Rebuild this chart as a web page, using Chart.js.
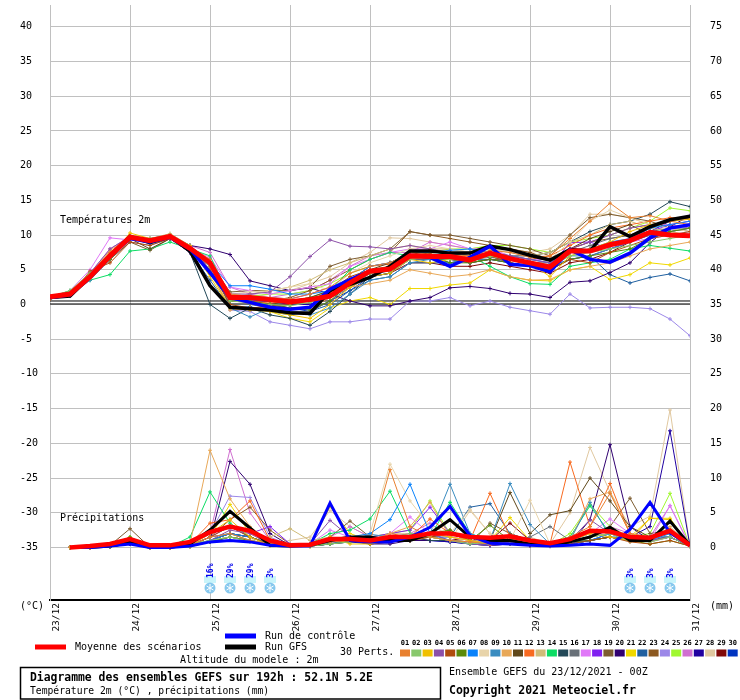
<!DOCTYPE html>
<html>
<head>
<meta charset="utf-8">
<script src="https://cdn.jsdelivr.net/npm/chart.js@4.4.0/dist/chart.umd.min.js"></script>
<style>
  body { margin: 0; background: #fff; }
</style>
</head>
<body>
<canvas id="myChart" width="740" height="700"></canvas>
<script>
// time axis: 33 steps of 6h from 23/12 00Z
const steps = [0,1,2,3,4,5,6,7,8,9,10,11,12,13,14,15,16,17,18,19,20,21,22,23,24,25,26,27,28,29,30,31,32];
const dayLabels = ['23/12','24/12','25/12','26/12','27/12','28/12','29/12','30/12','31/12'];
const tempTicks = [-35,-30,-25,-20,-15,-10,-5,0,5,10,15,20,25,30,35,40];
const rainTicks = [0,5,10,15,20,25,30,35,40,45,50,55,60,65,70,75];

const tempMean = [1.1,1.5,4.0,7.0,9.7,9.2,9.8,8.1,6.0,1.0,1.0,0.7,0.4,0.7,1.2,3.1,4.8,5.1,7.0,6.9,6.9,6.4,7.4,6.6,6.0,5.4,7.7,7.7,8.6,9.2,10.4,10.0,9.9];
const tempCtrl = [1.0,1.4,4.0,7.0,9.5,9.0,9.7,8.0,4.6,1.0,0.3,-0.4,-0.7,-0.4,2.2,3.6,4.8,5.1,7.1,6.8,5.5,6.8,8.4,5.8,5.6,4.7,7.9,6.5,6.1,7.4,9.6,11.0,11.5];
const tempGfs  = [1.0,1.2,4.0,7.0,9.8,8.9,9.8,7.7,2.7,-0.4,-0.6,-0.8,-1.2,-1.3,2.0,2.9,3.9,5.5,7.7,7.7,7.4,7.4,8.4,7.9,7.1,6.4,7.9,7.7,11.2,9.8,11.2,12.2,12.7];

const rainMean = [null,0.0,0.2,0.5,1.2,0.3,0.3,0.8,2.2,3.0,2.4,1.0,0.3,0.4,1.2,1.2,1.0,1.5,1.5,2.0,2.0,1.5,1.4,1.6,1.0,0.6,1.2,2.4,2.3,1.5,1.4,2.4,0.3];
const rainCtrl = [null,0,0,0.2,0.5,0,0,0.2,0.8,1.0,0.8,0.3,0.2,0.2,6.4,1.0,0.8,0.8,1.5,2.9,5.9,1.7,0.6,0.5,0.3,0.2,0.3,0.5,0.3,2.6,6.5,2.1,0.3];
const rainGfs  = [null,0,0,0.2,0.8,0,0,0.5,2.5,5.2,2.8,0.3,0.2,0.3,1.0,1.5,1.5,1.0,1.0,2.0,4.0,1.5,1.0,1.0,0.5,0.3,0.8,1.5,2.9,1.0,1.0,3.8,0.3];

const pertColors = ['#E8802F','#88C86C','#F0C000','#8C50A8','#B04C0C','#5A8A0A','#0A82FA','#E8D4AA','#3A8CC0','#E8A858',
  '#60481A','#F86A20','#D0BC78','#0CDC64','#224858','#687078','#E078F8','#8020F0','#7C5C30','#300070',
  '#F0D800','#2060A0','#8C5820','#9C88E8','#A0F830','#D070D0','#2000A0','#E0C8A0','#800808','#0034C0'];

const tempPerts = [
  [1.0,1.6,4.2,7.5,9.8,9.0,10.0,8.3,6.5,1.5,1.2,1.0,0.8,1.5,2.5,4.5,5.5,6.0,7.5,7.8,7.2,7.0,7.8,7.5,6.8,7.0,9.5,12.0,14.6,12.5,12.8,12.0,11.5],
  [1.1,2.0,4.5,7.0,9.5,9.3,9.7,8.0,5.5,0.5,0.3,0.0,-0.2,0.3,1.0,2.8,4.5,4.8,6.5,6.8,6.5,6.2,7.0,6.5,6.0,5.5,7.0,7.5,8.0,8.5,9.0,9.5,10.0],
  [0.9,1.4,3.8,6.8,10.3,9.5,10.0,8.5,4.0,-0.5,-0.8,-1.0,-1.5,-2.0,0.0,2.5,4.0,4.5,6.5,6.0,6.5,6.8,7.0,6.5,6.0,4.0,7.0,8.0,9.0,10.5,11.5,12.0,12.3],
  [1.0,1.5,4.5,8.0,9.8,9.0,9.5,7.5,5.5,1.5,1.5,1.8,4.0,6.9,9.3,8.4,8.3,8.0,8.5,8.0,7.5,7.0,7.5,7.0,6.5,6.0,8.0,9.0,10.0,11.0,11.5,12.0,12.3],
  [0.8,1.3,4.8,6.0,9.0,8.5,9.5,7.8,5.0,0.0,-0.5,-0.3,0.0,0.5,2.0,4.0,5.0,5.5,7.5,7.3,7.0,6.5,7.0,6.0,5.5,5.0,6.5,6.0,7.5,8.5,9.5,10.0,10.5],
  [1.0,1.5,4.0,6.5,9.5,9.0,9.8,8.0,6.0,0.5,0.5,0.0,-0.5,-0.8,0.5,3.0,4.5,5.0,6.8,7.0,6.0,6.0,6.5,6.0,5.5,5.0,6.5,7.0,7.5,8.0,9.5,10.5,11.0],
  [1.2,1.8,4.2,7.2,9.8,9.5,10.0,8.5,6.0,2.7,2.7,2.2,1.5,1.5,2.0,3.5,5.5,6.0,7.5,7.5,7.8,8.0,7.5,7.0,6.5,6.0,7.5,8.0,9.0,9.5,11.0,11.5,12.0],
  [1.0,1.5,4.0,7.0,9.7,9.0,10.0,8.0,6.0,1.5,1.8,2.0,2.5,3.0,2.0,4.5,6.0,7.0,8.0,8.5,8.0,7.5,8.0,7.5,7.0,6.5,9.0,12.0,13.6,12.5,11.5,11.0,10.5],
  [1.0,1.4,3.5,6.5,9.5,9.0,9.5,8.0,6.5,-0.5,-1.8,-0.5,-1.0,-1.5,-0.5,1.5,3.5,4.0,6.0,6.5,6.0,6.5,7.0,6.0,5.5,5.5,7.0,7.0,8.0,9.0,10.0,10.5,11.0],
  [1.1,1.7,4.3,7.8,9.7,9.3,10.0,8.2,5.0,-0.8,-0.5,-1.0,-0.8,-0.5,1.0,2.5,3.0,3.5,5.0,4.5,4.0,4.3,5.0,4.0,3.5,3.6,5.0,5.5,6.0,7.0,8.0,8.5,9.0],
  [0.9,1.3,3.8,6.5,9.5,8.0,9.5,8.0,4.5,0.5,0.3,0.0,0.5,1.0,2.0,3.5,5.0,6.0,7.5,7.0,6.5,6.0,6.5,6.5,6.0,5.0,8.0,9.5,10.5,11.5,10.0,11.0,11.5],
  [1.0,1.5,4.0,7.0,9.8,9.3,9.8,7.8,5.5,1.2,0.5,0.2,0.5,1.0,1.5,3.5,5.5,5.8,7.0,7.0,7.2,6.8,7.5,7.0,6.5,7.0,8.5,10.0,11.0,11.5,12.0,12.5,12.5],
  [1.0,1.6,4.5,7.5,10.0,9.5,10.2,8.5,6.0,1.0,1.5,2.0,2.5,3.5,5.0,6.0,7.0,8.0,8.5,8.0,8.0,7.5,8.0,7.5,7.0,7.5,9.0,10.0,11.5,12.0,11.0,10.5,10.0],
  [1.0,2.0,3.5,4.3,7.7,8.0,9.0,8.0,7.0,1.0,1.0,0.5,0.5,1.0,2.0,5.0,6.5,7.5,7.0,7.0,7.5,7.0,5.5,4.0,3.0,2.9,5.5,6.0,6.5,8.0,8.5,8.1,7.7],
  [1.0,1.5,4.0,7.0,9.5,9.0,9.5,7.5,0.0,-2.0,-0.5,-1.5,-2.0,-3.0,-1.0,1.5,4.0,4.5,7.0,7.0,7.5,7.0,7.5,7.0,7.0,7.5,9.0,10.5,11.5,12.0,13.0,14.8,14.1],
  [1.1,1.5,4.0,7.0,9.5,9.0,9.8,8.0,5.5,0.0,0.0,-0.5,-1.0,-1.0,0.5,2.5,4.5,5.0,6.5,6.5,6.5,6.5,6.8,6.5,6.0,6.0,7.5,8.5,9.5,10.0,10.5,11.0,11.0],
  [1.0,2.0,5.0,9.6,9.3,9.2,10.0,8.0,6.8,2.5,2.0,1.5,2.0,2.5,3.0,5.5,6.5,7.5,8.0,8.0,9.0,8.0,8.0,7.0,6.5,6.5,7.5,8.0,8.5,9.0,9.5,10.0,10.5],
  [1.0,1.5,4.0,7.5,9.5,9.0,9.5,7.5,5.0,0.5,0.5,1.0,0.8,1.5,2.5,3.5,5.5,6.0,7.0,7.0,7.0,7.5,7.0,6.5,6.0,5.5,8.9,9.0,8.0,9.0,10.5,11.5,12.0],
  [0.9,1.4,4.0,6.5,9.0,7.8,9.5,8.0,6.0,1.8,2.0,2.0,2.0,2.5,5.5,6.5,7.0,8.0,10.5,10.0,10.0,9.5,9.0,8.5,8.0,7.0,10.0,12.5,13.0,12.5,12.0,11.0,10.5],
  [1.0,1.5,4.0,7.0,9.5,9.0,9.8,8.5,8.0,7.2,3.4,2.7,2.0,2.4,1.5,0.5,-0.2,-0.2,0.5,1.0,2.4,2.6,2.3,1.6,1.5,1.0,3.2,3.4,4.6,6.0,8.9,11.2,12.8],
  [1.0,1.6,4.0,7.0,9.6,9.2,9.8,8.0,4.5,-0.3,-0.5,-1.0,-2.0,-2.5,-0.5,0.5,1.0,0.0,2.3,2.3,2.8,3.1,5.0,4.0,3.5,3.4,5.0,5.5,3.6,4.3,6.0,5.7,6.7],
  [1.0,1.5,4.0,7.0,9.5,9.0,9.5,7.5,3.5,-0.5,-0.3,-1.0,-1.5,-1.0,0.0,2.0,3.5,4.0,6.0,6.0,6.0,6.5,6.5,6.0,5.5,5.5,6.5,7.0,4.3,3.1,3.9,4.4,3.4],
  [1.0,1.5,4.0,7.0,9.8,9.2,9.8,8.0,5.0,1.0,1.0,0.5,1.0,2.0,3.5,5.0,6.5,7.5,10.5,10.0,9.5,9.0,8.5,8.0,7.5,6.5,8.0,9.0,9.5,10.0,11.0,12.0,12.5],
  [0.8,1.2,3.5,6.5,9.0,8.5,9.5,8.0,5.0,-0.8,-1.0,-2.5,-3.0,-3.5,-2.5,-2.5,-2.1,-2.1,0.5,0.5,1.0,-0.2,0.5,-0.4,-0.9,-1.4,1.5,-0.5,-0.4,-0.4,-0.6,-2.1,-4.5],
  [1.0,1.7,4.5,7.5,9.8,9.4,10.0,8.3,5.5,1.0,1.2,1.5,1.5,2.0,3.0,4.5,5.5,6.0,7.5,7.5,8.0,8.0,8.5,8.5,8.0,7.5,9.0,9.5,10.0,11.0,12.0,13.9,13.5],
  [1.0,1.6,4.5,8.0,9.8,9.5,10.0,8.5,7.5,2.5,1.5,1.0,1.5,2.0,3.5,5.5,7.0,7.5,7.5,9.0,8.5,8.0,8.0,7.0,6.5,6.0,8.0,9.0,10.0,11.0,11.5,11.5,11.0],
  [1.0,1.5,4.0,7.0,9.5,9.2,9.5,8.0,5.5,1.0,0.5,0.5,0.0,0.0,1.0,2.5,4.0,4.5,6.5,6.5,6.5,6.0,6.5,6.0,5.5,5.0,6.5,7.0,8.0,9.0,10.5,12.0,12.5],
  [1.0,1.5,4.0,7.2,9.7,9.2,10.2,8.5,6.0,0.5,1.0,1.5,2.0,3.0,4.0,6.0,7.5,9.6,9.5,9.0,8.5,8.0,8.5,8.0,7.5,8.0,10.0,13.0,13.0,12.5,11.5,10.5,10.0],
  [1.0,1.5,4.0,7.0,9.5,9.0,9.5,7.8,5.5,0.5,0.5,0.0,-0.5,-0.5,1.0,2.5,4.0,4.5,6.0,6.0,5.5,5.5,6.0,5.5,5.0,4.5,6.0,6.5,7.5,9.0,10.0,10.5,11.0],
  [1.0,1.5,4.0,7.0,9.6,9.0,9.7,8.0,4.5,0.5,0.5,0.0,-0.5,-1.0,0.5,2.0,4.0,5.0,7.0,7.0,6.0,6.5,7.0,6.0,5.5,5.0,7.5,8.0,8.5,9.5,11.0,12.0,12.5]
];

const rainPerts = [
  [null,0,0,0.2,0.8,0,0,0.3,1.5,2.0,1.0,0.5,0.2,0.3,0.8,1.0,0.8,11.2,3.0,1.5,1.0,0.8,0.5,1.2,0.8,0.3,1.5,3.0,7.8,2.0,1.0,2.5,0.2],
  [null,0,0,0.1,1.0,0,0,0.5,1.0,1.5,0.8,0.5,0.3,0.2,0.5,0.8,1.0,1.5,2.0,1.5,1.0,0.5,0.8,0.5,0.5,0.2,0.8,1.5,2.0,1.0,0.8,1.5,0.2],
  [null,0,0,0.2,1.2,0,0,0.2,2.0,4.0,1.5,0.3,0.2,0.1,1.5,0.5,0.5,1.0,1.5,2.0,1.5,1.0,0.5,1.0,0.5,0.3,1.0,2.0,1.5,1.0,4.2,4.0,0.2],
  [null,0,0,0.1,0.8,0,0,0.3,1.0,2.5,2.0,0.5,0.2,0.5,3.9,1.5,1.0,0.8,1.5,2.0,1.0,0.5,0.3,0.8,0.5,0.2,1.0,4.0,2.0,1.0,1.0,1.5,0.2],
  [null,0,0,0.2,1.0,0,0,0.2,1.5,3.0,1.5,0.5,0.3,0.5,1.0,1.0,0.5,0.8,1.0,1.5,2.0,1.5,1.0,0.5,0.3,0.2,0.5,1.0,1.5,0.8,0.5,1.0,0.2],
  [null,0,0,0.3,1.5,0,0,0.1,0.8,1.5,1.0,0.3,0.2,0.2,0.5,0.8,1.2,1.5,1.0,2.0,2.5,1.0,3.2,1.0,0.5,0.2,0.8,1.0,1.5,1.0,0.5,1.0,0.2],
  [null,0,0,0.2,0.8,0,0,0.3,1.0,2.0,1.5,0.5,0.2,0.3,0.8,1.5,2.0,4.0,9.1,2.0,1.0,0.5,0.5,0.8,0.5,0.3,0.5,1.0,2.0,1.5,1.0,2.0,0.2],
  [null,0,0,0.2,1.0,0,0,0.2,1.0,1.5,1.0,0.5,0.5,0.5,1.0,1.5,2.0,12.0,6.7,3.0,2.0,5.5,2.0,1.0,6.8,0.5,1.0,2.0,3.0,1.5,1.0,2.0,0.2],
  [null,0,0,0.1,0.8,0,0,0.2,1.5,2.0,1.0,0.5,0.3,0.2,0.5,1.0,1.9,1.5,1.5,2.0,9.1,2.0,1.0,9.2,3.3,0.5,1.0,6.5,1.5,1.0,1.5,1.5,0.2],
  [null,0,0,0.2,1.2,0,0,0.5,14.0,7.0,3.0,0.8,0.3,0.5,1.0,1.5,1.0,2.0,3.0,6.5,1.5,1.0,0.5,1.0,0.5,0.3,1.0,7.0,8.0,2.0,1.0,3.0,0.2],
  [null,0,0,0.1,0.5,0,0,0.2,1.0,2.0,1.5,0.5,0.3,0.3,1.0,1.5,1.0,1.5,1.0,1.5,2.0,1.5,1.0,7.9,2.0,4.7,5.3,10.0,6.7,3.0,1.5,2.0,0.2],
  [null,0,0,0.2,1.0,0,0,0.5,3.5,4.0,6.7,1.0,0.3,0.5,1.0,1.5,1.0,2.0,1.5,4.1,2.0,1.0,7.8,1.5,0.8,0.5,12.3,3.0,9.2,2.0,1.5,2.5,0.2],
  [null,0,0,0.2,1.2,0,0,0.3,1.0,1.5,1.0,1.5,2.7,1.0,1.5,1.0,0.8,1.0,1.5,1.5,1.0,0.8,0.5,0.8,0.5,0.3,0.8,1.5,2.0,1.0,0.8,1.5,0.2],
  [null,0,0,0.2,1.0,0,0.1,1.5,8.0,3.5,1.5,0.5,0.3,0.5,2.0,2.5,4.1,8.1,2.0,1.5,6.5,2.0,1.0,1.5,0.8,0.5,1.5,6.0,2.0,1.0,1.5,2.0,0.2],
  [null,0,0,0.1,0.8,0,0,0.2,1.0,1.5,1.0,0.5,0.3,0.2,0.5,1.0,1.0,1.0,1.5,1.0,1.0,0.8,0.5,0.8,0.5,0.3,0.5,1.0,1.5,1.0,1.5,1.5,0.2],
  [null,0,0,0.1,0.8,0,0,0.3,1.5,2.0,1.5,0.5,0.3,0.3,0.8,1.0,1.0,1.5,1.5,1.5,1.0,0.8,0.5,1.0,1.5,3.0,1.0,1.5,2.0,1.0,1.0,1.5,0.2],
  [null,0,0,0.2,1.0,0,0,0.3,2.0,3.0,2.0,0.8,0.3,0.5,2.5,1.5,1.0,2.0,4.4,2.0,1.5,1.0,0.5,1.0,0.5,0.3,1.0,2.0,4.1,2.0,1.0,6.0,0.2],
  [null,0,0,0.1,0.8,0,0,0.3,1.5,3.0,2.0,3.0,0.5,0.3,1.0,1.0,1.5,2.0,2.5,5.8,2.0,1.0,0.5,0.8,0.5,0.3,0.8,1.5,2.5,1.0,0.8,1.5,0.2],
  [null,0,0,0.3,2.7,0,0,0.5,2.5,3.0,1.5,0.5,0.3,0.5,1.5,3.8,1.5,1.0,1.5,1.5,1.0,0.5,3.5,2.0,1.0,0.3,1.0,2.0,3.0,7.1,2.0,2.5,0.2],
  [null,0,0,0.1,0.5,0,0,0.2,1.0,12.4,9.1,2.0,0.3,0.2,0.5,1.0,0.5,0.5,1.0,1.0,1.0,0.5,0.3,0.5,0.3,0.2,0.5,4.0,14.8,3.0,1.0,1.5,0.2],
  [null,0,0,0.2,0.8,0,0,0.2,1.5,6.2,2.0,0.5,0.3,0.3,5.9,2.0,1.0,1.0,1.5,1.5,1.0,0.8,1.0,4.3,1.0,0.3,0.8,1.5,2.0,1.5,4.2,4.2,0.2],
  [null,0,0,0.1,0.8,0,0,0.2,1.0,2.0,1.5,0.5,0.3,0.2,0.8,1.0,1.0,1.0,1.5,1.5,1.5,5.8,6.3,2.0,1.0,0.3,0.8,1.0,1.5,1.5,1.0,1.5,0.2],
  [null,0,0,0.2,1.0,0,0,0.3,1.5,4.0,5.8,2.5,0.5,0.3,1.0,1.5,1.0,1.5,1.5,1.5,2.5,1.0,0.8,1.0,0.5,0.3,1.0,1.5,2.0,1.5,1.0,2.5,0.2],
  [null,0,0,0.1,0.5,0,0,0.3,2.0,7.4,7.2,1.5,0.3,0.2,0.5,1.0,0.8,1.0,1.5,1.0,1.0,0.5,0.3,0.5,0.3,0.2,0.5,1.0,1.5,1.0,1.5,1.5,0.2],
  [null,0,0,0.3,1.5,0,0,0.2,1.0,2.0,1.0,0.5,0.3,0.3,1.0,1.0,1.5,2.0,2.5,6.7,2.0,1.0,0.5,1.0,0.5,0.3,2.0,6.2,3.0,1.5,2.0,7.8,0.2],
  [null,0,0,0.2,1.0,0,0,0.5,2.0,14.1,5.0,1.0,0.3,0.5,1.5,3.0,1.5,1.5,2.0,3.5,1.5,1.0,0.5,1.0,0.5,0.3,1.0,2.0,3.0,2.0,1.5,6.0,0.2],
  [null,0,0,0.1,0.5,0,0,0.2,0.8,1.5,1.0,0.5,0.3,0.2,0.5,0.8,0.5,0.8,1.0,1.0,0.8,0.5,0.3,0.5,0.3,0.2,0.5,1.0,2.0,1.5,3.0,16.8,0.2],
  [null,0,0,0.2,1.0,0,0,0.3,1.0,1.5,1.0,0.5,1.0,1.5,5.3,3.0,1.5,2.0,2.0,1.5,1.0,5.3,2.0,1.0,1.5,0.5,5.0,14.4,8.0,3.0,4.5,19.8,0.2],
  [null,0,0,0.1,0.8,0,0,0.2,1.0,2.0,1.5,0.5,0.3,0.3,0.8,1.0,1.0,1.0,1.5,1.0,1.0,1.5,1.0,3.5,1.0,0.3,0.5,1.0,1.5,1.0,1.0,1.5,0.2],
  [null,0,0,0.1,0.5,0,0,0.2,0.8,1.5,1.0,0.5,0.3,0.2,0.5,0.8,0.8,1.0,1.0,1.0,0.8,0.5,0.3,0.5,0.3,0.2,0.5,1.0,1.5,1.0,1.0,1.5,0.2]
];

// snow probability markers
const snowSteps = [8,9,10,11,29,30,31];
const snowPct = ['16%','29%','29%','3%','3%','3%','3%'];

const MONO = "'DejaVu Sans Mono', monospace";

const datasets = [];
tempPerts.forEach((d, i) => {
  datasets.push({ data: d, yAxisID: 'y', borderColor: pertColors[i], backgroundColor: pertColors[i],
    borderWidth: 1, pointStyle: 'cross', pointRadius: 2, pointBorderWidth: 1, order: 5 });
});
rainPerts.forEach((d, i) => {
  datasets.push({ data: d, yAxisID: 'y2', borderColor: pertColors[i], backgroundColor: pertColors[i],
    borderWidth: 1, pointStyle: 'cross', pointRadius: 2, pointBorderWidth: 1, order: 5 });
});
datasets.push({ data: tempGfs, yAxisID: 'y', borderColor: '#000', borderWidth: 3.5, pointRadius: 0, order: 3 });
datasets.push({ data: rainGfs, yAxisID: 'y2', borderColor: '#000', borderWidth: 3, pointRadius: 0, order: 3 });
datasets.push({ data: tempCtrl, yAxisID: 'y', borderColor: '#0000ff', borderWidth: 3.5, pointRadius: 0, order: 2 });
datasets.push({ data: rainCtrl, yAxisID: 'y2', borderColor: '#0000ff', borderWidth: 3, pointRadius: 0, order: 2 });
datasets.push({ data: tempMean, yAxisID: 'y', borderColor: '#ff0000', borderWidth: 5, pointRadius: 0, order: 1 });
datasets.push({ data: rainMean, yAxisID: 'y2', borderColor: '#ff0000', borderWidth: 4.5, pointRadius: 0, order: 1 });

function text(ctx, s, x, y, font, color) {
  ctx.font = font;
  ctx.fillStyle = color || '#000';
  ctx.textAlign = 'left';
  ctx.textBaseline = 'middle';
  ctx.fillText(s, x, y);
}

const extras = {
  id: 'extras',
  beforeDatasetsDraw(chart) {
    const { ctx, chartArea, scales } = chart;
    const y0 = scales.y.getPixelForValue(0);
    ctx.save();
    ctx.strokeStyle = '#000';
    ctx.lineWidth = 1;
    [y0 - 3.5, y0 - 0.5].forEach(py => {
      ctx.beginPath();
      ctx.moveTo(chartArea.left, py);
      ctx.lineTo(chartArea.right, py);
      ctx.stroke();
    });
    text(ctx, 'Températures 2m', 60, 220, '10px ' + MONO);
    text(ctx, 'Précipitations', 60, 518, '10px ' + MONO);
    ctx.restore();
  },
  afterDraw(chart) {
    const { ctx, scales } = chart;
    ctx.save();
    // snow icons
    snowSteps.forEach((s, i) => {
      const px = scales.x.getPixelForValue(s);
      ctx.fillStyle = '#c8f4fa';
      ctx.fillRect(px - 6, 576, 12, 7);
      ctx.fillStyle = '#86c8ee';
      ctx.beginPath();
      ctx.arc(px, 588, 5.5, 0, Math.PI * 2);
      ctx.fill();
      ctx.strokeStyle = '#fff';
      ctx.lineWidth = 1;
      for (let k = 0; k < 3; k++) {
        const a = k * Math.PI / 3 + Math.PI / 2;
        ctx.beginPath();
        ctx.moveTo(px - Math.cos(a) * 4, 588 - Math.sin(a) * 4);
        ctx.lineTo(px + Math.cos(a) * 4, 588 + Math.sin(a) * 4);
        ctx.stroke();
      }
      ctx.save();
      ctx.translate(px + 0.5, 578);
      ctx.rotate(-Math.PI / 2);
      text(ctx, snowPct[i], 0, 0, 'bold 8px ' + MONO, '#0000ee');
      ctx.restore();
    });

    text(ctx, '(°C)', 20, 606, '10px ' + MONO);
    text(ctx, '(mm)', 710, 606, '10px ' + MONO);

    // line legend
    ctx.lineWidth = 5;
    ctx.strokeStyle = '#ff0000';
    ctx.beginPath(); ctx.moveTo(35, 647); ctx.lineTo(66, 647); ctx.stroke();
    ctx.strokeStyle = '#0000ff';
    ctx.beginPath(); ctx.moveTo(225, 636); ctx.lineTo(256, 636); ctx.stroke();
    ctx.strokeStyle = '#000';
    ctx.beginPath(); ctx.moveTo(225, 647); ctx.lineTo(256, 647); ctx.stroke();
    text(ctx, 'Moyenne des scénarios', 75, 647, '10px ' + MONO);
    text(ctx, 'Run de contrôle', 265, 636, '10px ' + MONO);
    text(ctx, 'Run GFS', 265, 647, '10px ' + MONO);
    text(ctx, 'Altitude du modele : 2m', 180, 660, '10px ' + MONO);
    text(ctx, '30 Perts.', 340, 652, '10px ' + MONO);

    // member colour keys
    pertColors.forEach((c, i) => {
      const px = 400 + i * 11.3;
      ctx.fillStyle = c;
      ctx.fillRect(px, 649.5, 10, 7);
      ctx.font = 'bold 7px ' + MONO;
      ctx.fillStyle = '#000';
      ctx.textAlign = 'center';
      ctx.textBaseline = 'middle';
      ctx.fillText(String(i + 1).padStart(2, '0'), px + 5, 643.5);
    });

    // title box
    ctx.strokeStyle = '#000';
    ctx.lineWidth = 1.5;
    ctx.strokeRect(20.5, 667.5, 420, 31.5);
    text(ctx, 'Diagramme des ensembles GEFS sur 192h : 52.1N 5.2E', 30, 678, 'bold 11.4px ' + MONO);
    text(ctx, 'Température 2m (°C) , précipitations (mm)', 30, 691, '9.7px ' + MONO);
    text(ctx, 'Ensemble GEFS du 23/12/2021 - 00Z', 449, 672, '10px ' + MONO);
    text(ctx, 'Copyright 2021 Meteociel.fr', 449, 691, 'bold 11.5px ' + MONO);
    ctx.restore();
  }
};

const ctx = document.getElementById('myChart').getContext('2d');
const myChart = new Chart(ctx, {
  type: 'line',
  data: { labels: steps, datasets: datasets },
  options: {
    responsive: false,
    animation: false,
    devicePixelRatio: 1,
    layout: { padding: { left: 20, right: 0, top: 0, bottom: 0 } },
    elements: { line: { tension: 0 } },
    plugins: { legend: { display: false }, tooltip: { enabled: false } },
    scales: {
      x: {
        type: 'linear',
        min: 0,
        max: 32,
        afterBuildTicks: s => { s.ticks = dayLabels.map((_, i) => ({ value: i * 4 })); },
        afterFit: s => { s.height = 100; s.paddingLeft = 0; s.paddingRight = 0; },
        grid: { color: '#c0c0c0', drawTicks: false },
        border: { color: '#000', width: 2 },
        ticks: {
          autoSkip: false,
          minRotation: 90,
          maxRotation: 90,
          padding: 3,
          labelOffset: 7,
          color: '#000',
          font: { family: MONO, size: 9.5 },
          callback: v => dayLabels[v / 4]
        }
      },
      y: {
        position: 'left',
        min: -42.571,
        max: 43.143,
        afterBuildTicks: s => { s.ticks = tempTicks.map(v => ({ value: v })); },
        afterFit: s => { s.width = 30; s.paddingTop = 0; s.paddingBottom = 0; },
        grid: { color: '#c0c0c0', drawTicks: false },
        border: { color: '#c0c0c0' },
        ticks: { crossAlign: 'far', padding: 0, color: '#000', font: { family: MONO, size: 10 } }
      },
      y2: {
        position: 'right',
        min: -7.571,
        max: 78.143,
        afterBuildTicks: s => { s.ticks = rainTicks.map(v => ({ value: v })); },
        afterFit: s => { s.width = 50; s.paddingTop = 0; s.paddingBottom = 0; },
        grid: { drawOnChartArea: false, drawTicks: false },
        border: { color: '#c0c0c0' },
        ticks: { padding: 20, color: '#000', font: { family: MONO, size: 10 } }
      }
    }
  },
  plugins: [extras]
});
</script>
</body>
</html>
